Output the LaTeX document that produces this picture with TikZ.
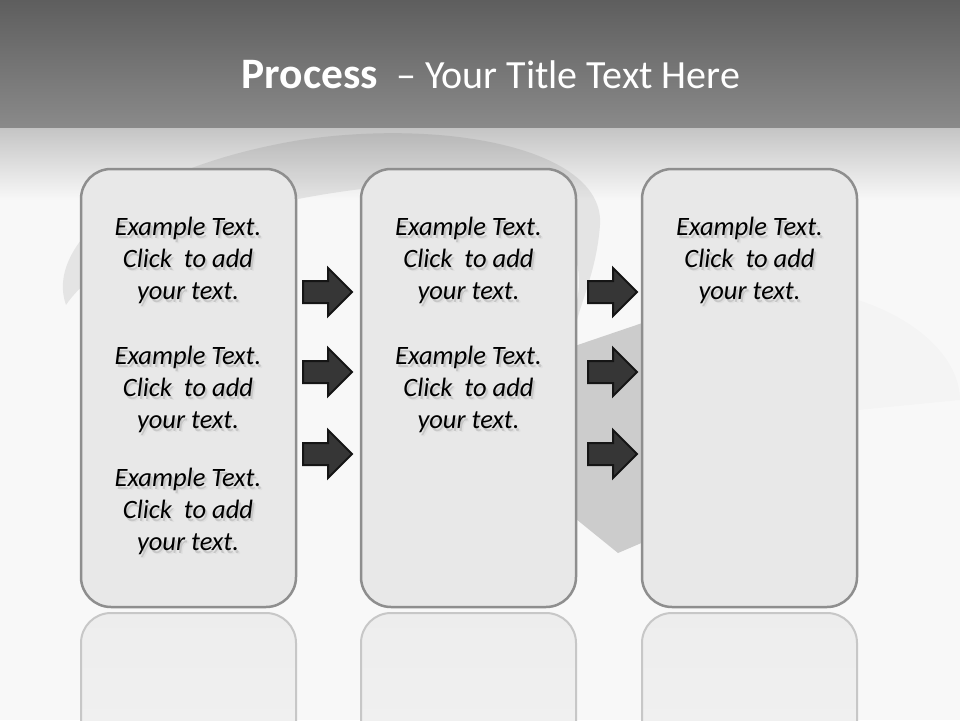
\documentclass[tikz,border=0pt]{standalone}
\usepackage{fontspec}
\setmainfont{Carlito}
\usetikzlibrary{positioning}

\definecolor{barTop}{HTML}{5E5E5E}
\definecolor{barBottom}{HTML}{8A8A8A}
\definecolor{paper}{HTML}{F8F8F8}
\definecolor{boxLine}{HTML}{8E8E8E}
\definecolor{boxFill}{HTML}{E8E8E8}
\definecolor{arrowFill}{HTML}{363636}
\definecolor{arrowLine}{HTML}{151515}

\tikzset{
  stepbox/.style={draw=boxLine, line width=2.5pt, fill=boxFill, rounded corners=30pt,
    minimum width=215pt, minimum height=438pt, inner sep=0pt},
  mirrorbox/.style={draw=black!22, line width=2pt, rounded corners=30pt,
    top color=black!7, bottom color=paper},
  steptext/.style={font=\fontsize{26.5}{32}\selectfont\itshape, align=center, text=black, inner sep=0pt},
  titletext/.style={font=\fontsize{40}{48}\selectfont, text=white, inner sep=0pt},
  blockarrow/.pic={
    \draw[draw=arrowLine, fill=arrowFill, line width=2pt, line join=miter]
      (0,-11) -- (25,-11) -- (25,-24) -- (49,0) -- (25,24) -- (25,11) -- (0,11) -- cycle;
  }
}

% one line of text with its soft shadow
\newcommand{\shLine}[1]{%
  \makebox[0pt][l]{\hspace{3.5pt}\raisebox{-4pt}{\textcolor{black!12}{#1}}}%
  \makebox[0pt][l]{\hspace{2pt}\raisebox{-2.5pt}{\textcolor{black!22}{#1}}}#1}
\newcommand{\clickText}{\shLine{Example Text.}\\\shLine{Click~ to add}\\\shLine{your text.}}

\begin{document}
\begin{tikzpicture}[x=1pt, y=-1pt]
\useasboundingbox (0,0) rectangle (960,720);
\begin{scope}
\clip (0,0) rectangle (960,720);

% background
\fill[paper] (0,0) rectangle (960,720);
\fill[top color=barTop, bottom color=barBottom] (0,0) rectangle (960,128);
\fill[top color=black!23, bottom color=paper] (0,128) rectangle (960,200);

% swoosh behind the boxes
\fill[black, opacity=0.08] (66,305) .. controls (46,250) and (120,170) .. (300,140)
  .. controls (450,118) and (605,150) .. (600,225) .. controls (597,265) and (585,292) .. (577,320)
  -- (577,300) .. controls (590,240) and (540,185) .. (430,184)
  .. controls (330,185) and (120,225) .. (66,305) -- cycle;
\fill[black!20] (560,351) -- (660,317) -- (660,535) -- (618,553) -- (560,506) -- cycle;
\fill[black, opacity=0.015] (858,300) .. controls (920,320) and (960,360) .. (960,400) -- (858,410) -- cycle;

% reflections
\draw[mirrorbox] (81,613) rectangle (296,1051);
\draw[mirrorbox] (361,613) rectangle (576,1051);
\draw[mirrorbox] (642,613) rectangle (857,1051);
\end{scope}

% title
\node[titletext] (title) at (491,75) {{\fontsize{43.5}{48}\selectfont\bfseries Process}~ – Your Title Text Here};

% boxes
\node[stepbox] (step1) at (188.5,388) {};
\node[stepbox] (step2) at (468.5,388) {};
\node[stepbox] (step3) at (749.5,388) {};

% arrows
\pic at (303,292) {blockarrow};
\pic at (303,372) {blockarrow};
\pic at (303,454) {blockarrow};
\pic at (588,292) {blockarrow};
\pic at (588,372) {blockarrow};
\pic at (588,454) {blockarrow};

% texts
\node[steptext] (text11) at (188,262.5) {\clickText};
\node[steptext] (text12) at (188,391.5) {\clickText};
\node[steptext] (text13) at (188,513.5) {\clickText};
\node[steptext] (text21) at (468.5,262.5) {\clickText};
\node[steptext] (text22) at (468.5,391.5) {\clickText};
\node[steptext] (text31) at (749.5,262.5) {\clickText};
\end{tikzpicture}
\end{document}
